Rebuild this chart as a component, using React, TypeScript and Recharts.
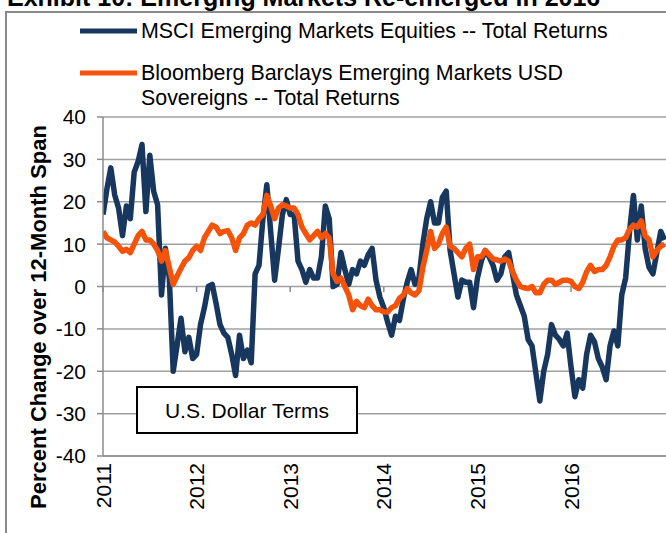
import React from "react";
import { LineChart, Line, XAxis, YAxis, CartesianGrid, ReferenceLine } from "recharts";

const years = [2011, 2012, 2013, 2014, 2015, 2016];
const yearTicks = [2011, 2012, 2013, 2014, 2015, 2016];
const yTicks = [-40, -30, -20, -10, 0, 10, 20, 30, 40];

const seriesNames = {
  msci: "MSCI Emerging Markets Equities -- Total Returns",
  bbg1: "Bloomberg Barclays Emerging Markets USD",
  bbg2: "Sovereigns -- Total Returns",
};

// Semi-monthly readings (1st and 16th of each month), 2011-01-01 .. 2017-01-01
const msci = [
  17, 23, 28, 21.6, 18.5, 12, 19, 16, 27, 29.5, 33.5, 17.7, 31, 22.4, 19.3, -2, 9, 2, -20, -13.8, -7.5, -15.4, -12, -17,
  -16, -9, -5, 0, 0.5, -4, -9, -11, -12, -16, -21, -11.5, -17, -15, -18, 3, 5, 16, 24, 13, 1.5, 9, 17, 20.5,
  17, 17, 6, 4, 1, 4, 2, 2, 7, 19, 16, 0, 0.5, 8, 4, 0.5, 4, 3, 6, 5, 7.5, 9, 1.5, -2.5,
  -5, -8.5, -11.5, -7, -8, -3, 1, 4, 0.5, 2, 10, 16, 20, 15, 15, 21, 22.5, 8.5, 3, -2.5, 1.5, 1, 1, -5,
  2, 6, 8.5, 7, 5, 1.5, 3, 7, 8, 3, -2, -4.5, -7, -12.5, -14, -20.5, -27, -20, -16, -9, -11.5, -12.5, -14, -11,
  -19, -26, -22, -24, -16, -11.5, -13, -17, -19, -22, -14, -10.5, -14, -2, 2, 13, 21.5, 11, 19, 9, 4.5, 3, 8, 13,
  11,
];

const bloomberg = [
  13, 11.5, 11, 10.5, 9.5, 8.3, 8.8, 8, 10, 12, 13, 11, 11, 10, 8.5, 6, 8.5, 4.5, 0.5, 2.5, 4.3, 6, 6.8, 8.5,
  9.5, 8.5, 11.5, 13, 14.5, 14, 12.5, 13, 13.2, 11.5, 8.5, 11.5, 12.5, 14.5, 15, 14.5, 16, 17, 21.5, 19, 16, 18.5, 19.3, 19,
  18.5, 18.5, 17, 14, 12.5, 11, 12, 13, 11.5, 12.5, 11.5, 3, 1.2, 2, 0, -2, -5.5, -3.5, -4.5, -5, -3, -4.5, -5.5, -5.5,
  -6, -6, -5, -4.5, -2.8, -2, -0.5, -1.5, -2, -1, 4.5, 8.5, 13, 9, 10, 12.5, 14, 9.5, 9, 8, 7, 9, 10, 4,
  7, 7, 8.5, 7.5, 6.5, 6.3, 6, 6.5, 6, 3.5, 1.5, 0, -0.3, -0.5, 0, -1.5, -1.5, 0.5, 1.5, 1.5, 0.5, 1, 1.5, 1.5,
  1.2, 0, -0.5, 1, 3.5, 5, 3.5, 4, 4, 5, 7, 9.5, 11, 11, 11.5, 13.5, 14.5, 14, 15.5, 12, 11, 7, 8.5, 9.5,
  10,
];

const dates: string[] = [];
for (const y of years) {
  for (let m = 1; m <= 12; m++) {
    for (const d of ["01", "16"]) dates.push(`${y}-${String(m).padStart(2, "0")}-${d}`);
  }
}
dates.push("2017-01-01");

function toYear(s: string) {
  const [y, m, d] = s.split("-").map(Number);
  return y + (m - 1) / 12 + (d > 1 ? 1 / 24 : 0);
}

const data = dates.map((d, i) => ({ t: toYear(d), msci: msci[i], bbg: bloomberg[i] }));

const BLUE = "#17375E";
const ORANGE = "#F5520A";
const GREY = "#8C8C8C";
const FONT = "'Liberation Sans', Arial, sans-serif";

const RotTick = (props: any) => {
  const { x, payload } = props;
  return (
    <text
      transform={`translate(${x + 7.5},463) rotate(-90)`}
      textAnchor="end"
      fontSize={21}
      fill="#000"
      fontFamily={FONT}
    >
      {payload.value}
    </text>
  );
};

export default function App() {
  return (
    <div
      style={{
        position: "absolute",
        left: 0,
        top: 0,
        width: 666,
        height: 533,
        overflow: "hidden",
        background: "#fff",
        fontFamily: FONT,
      }}
    >
      <svg width={666} height={533} style={{ position: "absolute", left: 0, top: 0 }}>
        <text x={7} y={6} fontWeight="bold" fontSize={25} fill="#000" fontFamily={FONT}>
          Exhibit 10: Emerging Markets Re-emerged in 2016
        </text>
        <path d="M6,533 V12 H666" stroke="#8A8A8A" strokeWidth={2} fill="none" />
      </svg>
      <div style={{ position: "absolute", left: 0, top: 0 }}>
        <LineChart
          width={680}
          height={533}
          data={data}
          margin={{ top: 117, right: 6, bottom: 0, left: 0 }}
        >
          <CartesianGrid vertical={false} stroke="#A0A0A0" strokeWidth={1.5} />
          <XAxis
            type="number"
            dataKey="t"
            domain={[2011, 2017.1]}
            ticks={yearTicks}
            interval={0}
            height={77}
            axisLine={{ stroke: GREY, strokeWidth: 1.5 }}
            tickLine={false}
            tick={<RotTick />}
            allowDataOverflow
          />
          <YAxis
            type="number"
            domain={[-40, 40]}
            ticks={yTicks}
            interval={0}
            width={103}
            axisLine={{ stroke: GREY, strokeWidth: 1.5 }}
            tickLine={{ stroke: GREY, strokeWidth: 1.5 }}
            tickSize={6}
            tickMargin={11}
            tick={{ fill: "#000", fontSize: 21, fontFamily: FONT }}
          />
          {yearTicks.map((y) => (
            <ReferenceLine
              key={y}
              segment={[
                { x: y, y: 0 },
                { x: y, y: -1.3 },
              ]}
              stroke={GREY}
              strokeWidth={1.5}
            />
          ))}
          <Line
            type="linear"
            dataKey="msci"
            stroke={BLUE}
            strokeWidth={5.5}
            strokeLinejoin="round"
            dot={false}
            isAnimationActive={false}
          />
          <Line
            type="linear"
            dataKey="bbg"
            stroke={ORANGE}
            strokeWidth={5.5}
            strokeLinejoin="round"
            dot={false}
            isAnimationActive={false}
          />
        </LineChart>
      </div>
      <svg width={666} height={533} style={{ position: "absolute", left: 0, top: 0, pointerEvents: "none" }}>
        <line x1={80} y1={31} x2={137} y2={31} stroke={BLUE} strokeWidth={5} />
        <text x={141} y={38} fontSize={21.4} fill="#000" fontFamily={FONT}>
          {seriesNames.msci}
        </text>
        <line x1={80} y1={73} x2={137} y2={73} stroke={ORANGE} strokeWidth={5} />
        <text x={141} y={80} fontSize={21.4} fill="#000" fontFamily={FONT}>
          {seriesNames.bbg1}
        </text>
        <text x={141} y={105} fontSize={21.4} fill="#000" fontFamily={FONT}>
          {seriesNames.bbg2}
        </text>
        <rect x={137} y={387} width={220} height={46} fill="#fff" stroke="#000" strokeWidth={2} />
        <text x={247} y={418} textAnchor="middle" fontSize={21} fill="#000" fontFamily={FONT}>
          U.S. Dollar Terms
        </text>
        <text
          transform="translate(46,317) rotate(-90)"
          textAnchor="middle"
          fontWeight="bold"
          fontSize={22}
          fill="#000"
          fontFamily={FONT}
        >
          Percent Change over 12-Month Span
        </text>
      </svg>
    </div>
  );
}
